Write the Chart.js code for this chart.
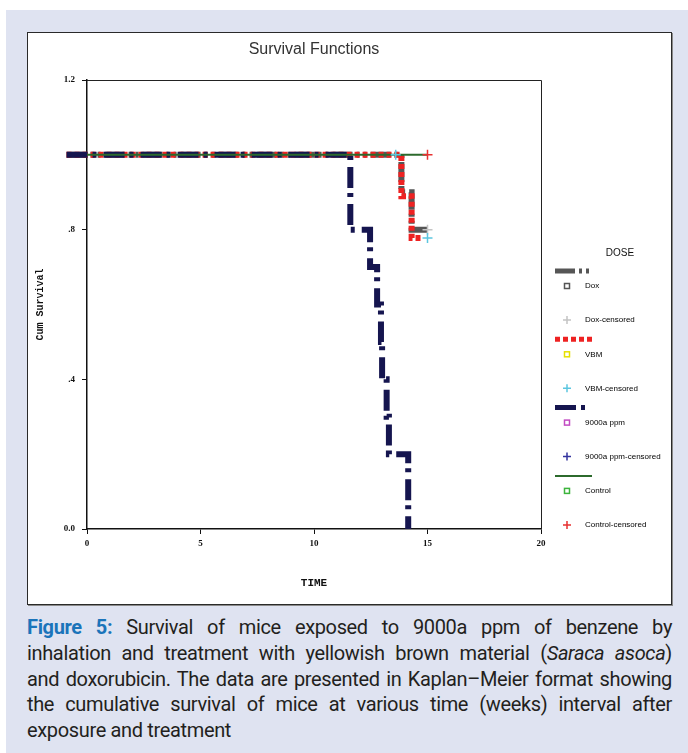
<!DOCTYPE html>
<html>
<head>
<meta charset="utf-8">
<script src="https://cdn.jsdelivr.net/npm/chart.js@4.4.1/dist/chart.umd.min.js"></script>
<style>
    html, body { margin: 0; padding: 0; background: #fff; }
    body { width: 688px; height: 753px; position: relative; overflow: hidden; }
    .bg { position: absolute; left: 6px; top: 10px; width: 682px; height: 743px; background: #dfe3f1; }
    .panel { position: absolute; left: 27px; top: 32px; width: 643px; height: 571px; background: #fff; border: 1px solid #2a2a2a; box-shadow: 1px 1px 0 #8a8a8a; }
    .panel canvas { position: absolute; left: 0; top: 0; }
    .caption { position: absolute; left: 27px; top: 615px; width: 645px; font-family: Roboto, 'Noto Sans', sans-serif; font-size: 20px; letter-spacing: -0.35px; line-height: 25.8px; color: #231f20; }
    .caption .ln { text-align: justify; text-align-last: justify; white-space: nowrap; }
    .caption .last { text-align: left; }
    .caption b { color: #1b74ba; }
</style>
</head>
<body>
<div class="bg"></div>
<div class="panel"><canvas id="chart" width="643" height="571"></canvas></div>
<div class="caption">
    <div class="ln"><b>Figure 5:</b> Survival of mice exposed to 9000a ppm of benzene by</div>
    <div class="ln">inhalation and treatment with yellowish brown material (<i>Saraca asoca</i>)</div>
    <div class="ln">and doxorubicin. The data are presented in Kaplan–Meier format showing</div>
    <div class="ln">the cumulative survival of mice at various time (weeks) interval after</div>
    <div class="last">exposure and treatment</div>
</div>
<script>
// survival steps (time in weeks, cumulative survival)
const doseGroups = ['Dox', 'VBM', '9000a ppm', 'Control'];

const doxTimes = [-0.9, 13.85, 14.3, 15.0];
const doxSurv = [1.0, 0.9, 0.8, 0.8];
const vbmTimes = [-0.9, 13.85, 14.3, 14.8];
const vbmSurv = [1.0, 0.889, 0.778, 0.778];
const ppmTimes = [-0.9, 11.6, 12.47, 12.78, 12.95, 13.0, 13.2, 13.3, 14.15];
const ppmSurv = [1.0, 0.8, 0.7, 0.6, 0.5, 0.4, 0.3, 0.2, 0.0];
const controlTimes = [0, 15.0];
const controlSurv = [1.0, 1.0];

// censored observations
const doxCensTimes = [15.0];
const doxCensSurv = [0.8];
const vbmCensTimes = [13.6, 15.0];
const vbmCensSurv = [1.0, 0.778];
const ppmCensTimes = [];
const ppmCensSurv = [];
const controlCensTimes = [15.0];
const controlCensSurv = [1.0];

const xTickLabels = ['0', '5', '10', '15', '20'];
const yTickLabels = ['0.0', '.4', '.8', '1.2'];

const toPoints = (xs, ys) => xs.map((x, i) => ({ x: x, y: ys[i] }));

const lineColors = ['#565656', '#ee2222', '#15154f', '#2c6a2c'];
const lineDashes = [[20, 4, 3, 4, 3, 4], [5, 3], [21, 5, 4, 7], []];
const lineWidths = [6, 6, 6, 2];
const squareColors = ['#555555', '#e6e000', '#c24cc2', '#3cb43c'];
const crossColors = ['#c4c4c4', '#5cc6e0', '#34349e', '#e83030'];

const stepLine = (i, xs, ys) => ({
    label: doseGroups[i],
    data: toPoints(xs, ys),
    borderColor: lineColors[i],
    borderWidth: lineWidths[i],
    borderDash: lineDashes[i],
    borderCapStyle: 'butt',
    stepped: 'before',
    pointRadius: 0,
    fill: false,
    clip: false,
});

const censored = (i, xs, ys) => ({
    label: doseGroups[i] + '-censored',
    data: toPoints(xs, ys),
    showLine: false,
    pointStyle: 'cross',
    pointRadius: 5,
    borderColor: crossColors[i],
    backgroundColor: crossColors[i],
    pointBorderWidth: 1.5,
    clip: false,
});

// first dataset ends up on top
const datasets = [
    censored(3, controlCensTimes, controlCensSurv),
    censored(1, vbmCensTimes, vbmCensSurv),
    censored(0, doxCensTimes, doxCensSurv),
    censored(2, ppmCensTimes, ppmCensSurv),
    stepLine(3, controlTimes, controlSurv),
    stepLine(2, ppmTimes, ppmSurv),
    stepLine(1, vbmTimes, vbmSurv),
    stepLine(0, doxTimes, doxSurv),
];

const framePlugin = {
    id: 'frame',
    afterDraw(chart) {
        const { ctx, chartArea } = chart;
        ctx.save();
        ctx.strokeStyle = '#222';
        ctx.lineWidth = 1;
        ctx.beginPath();
        ctx.moveTo(chartArea.left, chartArea.top + 0.5);
        ctx.lineTo(chartArea.right + 0.5, chartArea.top + 0.5);
        ctx.lineTo(chartArea.right + 0.5, chartArea.bottom);
        ctx.stroke();

        // title, centred over the plot
        ctx.fillStyle = '#333';
        ctx.font = '16px "Liberation Sans", Arial, sans-serif';
        ctx.textAlign = 'center';
        ctx.textBaseline = 'middle';
        ctx.fillText('Survival Functions', (chartArea.left + chartArea.right) / 2, 17);
        ctx.restore();
    },
};

const legendPlugin = {
    id: 'doseLegend',
    afterDraw(chart) {
        const ctx = chart.ctx;
        ctx.save();
        ctx.fillStyle = '#111';
        ctx.font = '10px "Liberation Sans", Arial, sans-serif';
        ctx.textAlign = 'center';
        ctx.textBaseline = 'middle';
        ctx.fillText('DOSE', 592, 220);

        ctx.font = '8px "Liberation Sans", Arial, sans-serif';
        ctx.textAlign = 'left';
        doseGroups.forEach((name, i) => {
            const base = 238 + i * 68.3;
            // line sample
            ctx.strokeStyle = lineColors[i];
            ctx.lineWidth = i === 3 ? 2 : 5;
            ctx.setLineDash(lineDashes[i]);
            ctx.beginPath();
            ctx.moveTo(527, base);
            ctx.lineTo(564, base);
            ctx.stroke();
            ctx.setLineDash([]);

            // square
            ctx.strokeStyle = squareColors[i];
            ctx.lineWidth = 1.5;
            ctx.strokeRect(536.5, base + 12.5, 5, 5);
            ctx.fillStyle = '#000';
            ctx.fillText(name, 557, base + 15);

            // cross
            const cy = base + 49;
            ctx.strokeStyle = crossColors[i];
            ctx.beginPath();
            ctx.moveTo(535, cy);
            ctx.lineTo(543, cy);
            ctx.moveTo(539, cy - 4);
            ctx.lineTo(539, cy + 4);
            ctx.stroke();
            ctx.fillText(name + '-censored', 557, cy);
        });
        ctx.restore();
    },
};

const tickFont = { family: '"Liberation Serif", serif', size: 9, weight: 'bold' };
const axisTitleFont = { family: '"Liberation Mono", monospace', size: 11, weight: 'bold' };

new Chart(document.getElementById('chart').getContext('2d'), {
    type: 'line',
    data: { datasets: datasets },
    options: {
        responsive: false,
        animation: false,
        events: [],
        layout: { padding: { top: 47, right: 130, bottom: 0, left: 0 } },
        plugins: {
            legend: { display: false },
            title: { display: false },
            tooltip: { enabled: false },
        },
        scales: {
            x: {
                type: 'linear',
                min: 0,
                max: 20,
                ticks: {
                    stepSize: 5,
                    padding: 4,
                    color: '#111',
                    font: tickFont,
                    maxRotation: 0,
                    callback: (v, idx) => xTickLabels[idx],
                },
                grid: { drawOnChartArea: false, tickLength: 5, color: '#111' },
                border: { color: '#111', width: 1.5 },
                title: { display: true, text: 'TIME', color: '#111', font: axisTitleFont, padding: 14 },
                afterFit: (scale) => { scale.height = 75; },
            },
            y: {
                min: 0,
                max: 1.2,
                ticks: {
                    stepSize: 0.4,
                    padding: 7,
                    color: '#111',
                    font: tickFont,
                    callback: (v, idx) => yTickLabels[idx],
                },
                grid: { drawOnChartArea: false, tickLength: 5, color: '#111' },
                border: { color: '#111', width: 1.5 },
                title: { display: true, text: 'Cum Survival', color: '#111', font: { family: '"Liberation Mono", monospace', size: 10, weight: 'bold' }, padding: 6 },
                afterFit: (scale) => { scale.width = 59; },
            },
        },
    },
    plugins: [framePlugin, legendPlugin],
});
</script>
</body>
</html>
